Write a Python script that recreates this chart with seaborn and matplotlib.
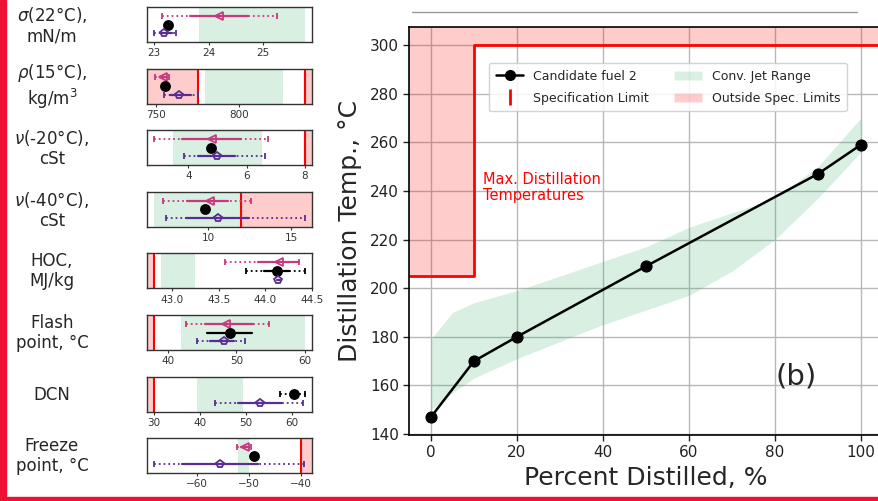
import numpy as np
import matplotlib

matplotlib.use("Agg")
import matplotlib.pyplot as plt
import seaborn as sns
from matplotlib.lines import Line2D
from matplotlib.patches import Patch, Rectangle

nan = np.nan

# distillation curve (panel b)
pct = [0, 10, 20, 50, 90, 100]
fuel2_temp = [147, 170, 180, 209, 247, 259]
jet_pct = [0, 5, 10, 20, 30, 40, 50, 60, 70, 80, 90, 100]
jet_lo = [150, 157, 163, 171, 178, 185, 191, 197, 207, 220, 237, 256]
jet_hi = [179, 190, 194, 199, 205, 211, 217, 225, 231, 237, 250, 270]
spec_pct = [-5, 10, 10, 105]
spec_temp = [205, 205, 300, 300]

# property panels
prop_labels = [
    "$\\sigma$(22°C),\nmN/m",
    "$\\rho$(15°C),\nkg/m$^3$",
    "$\\nu$(-20°C),\ncSt",
    "$\\nu$(-40°C),\ncSt",
    "HOC,\nMJ/kg",
    "Flash\npoint, °C",
    "DCN",
    "Freeze\npoint, °C",
]
prop_xlim = [(22.87, 25.9), (744.5, 844), (2.585, 8.24), (6.29, 16.27),
             (42.73, 44.5), (36.98, 61.02), (28.5, 64.4), (-69.56, -37.8)]
prop_ticks = [[23, 24, 25], [750, 800], [4, 6, 8], [10, 15],
              [43.0, 43.5, 44.0, 44.5], [40, 50, 60], [30, 40, 50, 60], [-60, -50, -40]]
jet_range_lo = [23.83, 779.7, 3.47, 6.71, 42.88, 41.9, 39.4, -52.1]
jet_range_hi = [25.77, 826.8, 6.52, 12.0, 43.25, 60.0, 49.3, -49.9]
spec_min = [nan, 775, nan, nan, 42.8, 38, 30, nan]
spec_max = [nan, 840, 8, 12, nan, nan, nan, -40]

# pink series
a_med = [24.2, 754.3, 4.80, 10.1, 44.15, 48.5, nan, -50.7]
a_in_lo = [23.66, 752.5, 3.77, 8.69, 43.92, 45.4, nan, -51.5]
a_in_hi = [24.72, 756.0, 5.80, 11.21, 44.36, 52.4, nan, -50.0]
a_out_lo = [23.14, 749.2, 2.82, 7.28, 43.57, 42.7, nan, -52.3]
a_out_hi = [25.26, 757.7, 6.74, 12.56, 44.36, 54.7, nan, -49.6]

# candidate fuel 2
f2_med = [23.25, 755.5, 4.78, 9.8, 44.12, 49.1, 60.4, -49.0]
f2_in_lo = [nan, nan, nan, nan, 43.98, 45.7, nan, nan]
f2_in_hi = [nan, nan, nan, nan, 44.25, 52.3, nan, nan]
f2_out_lo = [nan, nan, nan, nan, 43.79, nan, 57.5, nan]
f2_out_hi = [nan, nan, nan, nan, 44.42, nan, 62.9, nan]

# purple series
b_med = [23.19, 764.0, 4.97, 10.57, 44.14, 48.2, 53.0, -55.5]
b_in_lo = [23.1, 758.5, 4.34, 8.65, 44.12, 46.2, 48.3, -62.9]
b_in_hi = [23.32, 771.0, 5.60, 12.45, 44.16, 49.6, 57.9, -48.2]
b_out_lo = [23.0, 754.9, 3.85, 7.41, nan, 44.2, 43.4, -68.2]
b_out_hi = [23.4, 775.0, 6.63, 15.85, nan, 51.3, 62.5, -39.4]

PINK = "#c7387f"
PURPLE = "#5a2d91"
GREEN = "mediumseagreen"

sns.set_style("ticks")
plt.rcParams["font.family"] = ["DejaVu Sans"]

W, H = 879, 501
fig = plt.figure(figsize=(W / 100, H / 100), dpi=100)


def draw_row(ax, y, med, in_lo, in_hi, out_lo, out_hi, color, marker, mfc, ms):
    if not np.isnan(out_lo):
        ax.plot([out_lo, out_hi], [y, y], ls=":", lw=1.3, color=color, zorder=3)
        ax.plot([out_lo, out_hi], [y, y], ls="none", marker="|", ms=4,
                mew=1.3, color=color, zorder=3)
    if not np.isnan(in_lo):
        ax.plot([in_lo, in_hi], [y, y], ls="-", lw=1.6, color=color, zorder=4)
    if not np.isnan(med):
        ax.plot([med], [y], ls="none", marker=marker, ms=ms, mfc=mfc,
                mec=color, mew=1.3, zorder=5)


for i in range(8):
    top = 7 + 61.6 * i
    sax = fig.add_axes([147 / W, 1 - (top + 35) / H, 165 / W, 35 / H])
    x0, x1 = prop_xlim[i]
    sax.axvspan(jet_range_lo[i], jet_range_hi[i], color=GREEN, alpha=0.2, lw=0)
    if not np.isnan(spec_min[i]):
        sax.axvspan(x0, spec_min[i], color="red", alpha=0.2, lw=0)
        sax.axvline(spec_min[i], color="red", lw=1.5)
    if not np.isnan(spec_max[i]):
        sax.axvspan(spec_max[i], x1, color="red", alpha=0.2, lw=0)
        sax.axvline(spec_max[i], color="red", lw=1.5)
    draw_row(sax, 2, a_med[i], a_in_lo[i], a_in_hi[i], a_out_lo[i], a_out_hi[i],
             PINK, "<", "none", 6)
    draw_row(sax, 1, f2_med[i], f2_in_lo[i], f2_in_hi[i], f2_out_lo[i], f2_out_hi[i],
             "black", "o", "black", 6.5)
    draw_row(sax, 0, b_med[i], b_in_lo[i], b_in_hi[i], b_out_lo[i], b_out_hi[i],
             PURPLE, "p", "none", 6)
    sax.set_xlim(x0, x1)
    sax.set_ylim(-1, 3)
    sax.set_yticks([])
    sax.set_xticks(prop_ticks[i])
    if i == 4:
        sax.xaxis.set_major_formatter(matplotlib.ticker.FormatStrFormatter("%.1f"))
    sax.tick_params(axis="x", labelsize=7.5, length=2.5, width=0.8, pad=2,
                    colors="#333333")
    for sp in sax.spines.values():
        sp.set_visible(True)
        sp.set_color("#333333")
        sp.set_linewidth(1.0)
    fig.text(52 / W, 1 - (top + 18) / H, prop_labels[i], ha="center", va="center",
             fontsize=12, linespacing=1.15)

# main distillation panel
ax = fig.add_axes([409.5 / W, 66 / H, 473 / W, 408 / H])
ax.set_xlim(-5, 105)
ax.set_ylim(139.6, 307.4)
ax.grid(True, color="#b8b8b8", lw=1.0)
ax.set_axisbelow(True)
ax.fill_between(jet_pct, jet_lo, jet_hi, color=GREEN, alpha=0.2, lw=0)
ax.fill_between(spec_pct, spec_temp, 307.4, color="red", alpha=0.2, lw=0)
ax.plot(spec_pct, spec_temp, color="red", lw=2)
sns.lineplot(x=pct, y=fuel2_temp, ax=ax, color="black", lw=1.8, marker="o",
             markersize=8, markeredgecolor="black", zorder=5)
ax.text(12, 241.4, "Max. Distillation\nTemperatures", color="red", fontsize=10.5,
        ha="left", va="center", linespacing=1.1)
ax.text(85, 163.5, "(b)", fontsize=21, ha="center", va="center")
ax.set_xticks([0, 20, 40, 60, 80, 100])
ax.set_yticks(range(140, 301, 20))
ax.tick_params(labelsize=11, length=4, width=1, colors="#222222")
ax.set_xlabel("Percent Distilled, %", fontsize=18, labelpad=4)
ax.set_ylabel("Distillation Temp., °C", fontsize=18, labelpad=6)
for sp in ax.spines.values():
    sp.set_color("black")
    sp.set_linewidth(1.2)

handles = [
    Line2D([], [], color="black", lw=1.8, marker="o", ms=7),
    Line2D([], [], color="red", ls="none", marker="|", ms=12, mew=2),
    Patch(facecolor=GREEN, alpha=0.2),
    Patch(facecolor="red", alpha=0.2),
]
labels = ["Candidate fuel 2", "Specification Limit", "Conv. Jet Range",
          "Outside Spec. Limits"]
ax.legend(handles, labels, ncol=2, fontsize=9, loc="upper left",
          bbox_to_anchor=(0.168, 0.912), borderaxespad=0, frameon=True,
          framealpha=0.85, columnspacing=2.0, handlelength=2.2,
          labelspacing=0.7, borderpad=0.55)

# page decorations
fig.add_artist(Line2D([412 / W, 857 / W], [1 - 12 / H] * 2, color="#999999", lw=1))
fig.add_artist(Rectangle((0, 0), 6 / W, 1, color="#ee1133", transform=fig.transFigure))
fig.add_artist(Rectangle((0, 0), 1, 4 / H, color="#ee1133", transform=fig.transFigure))

fig.savefig("out.png", dpi=100)
